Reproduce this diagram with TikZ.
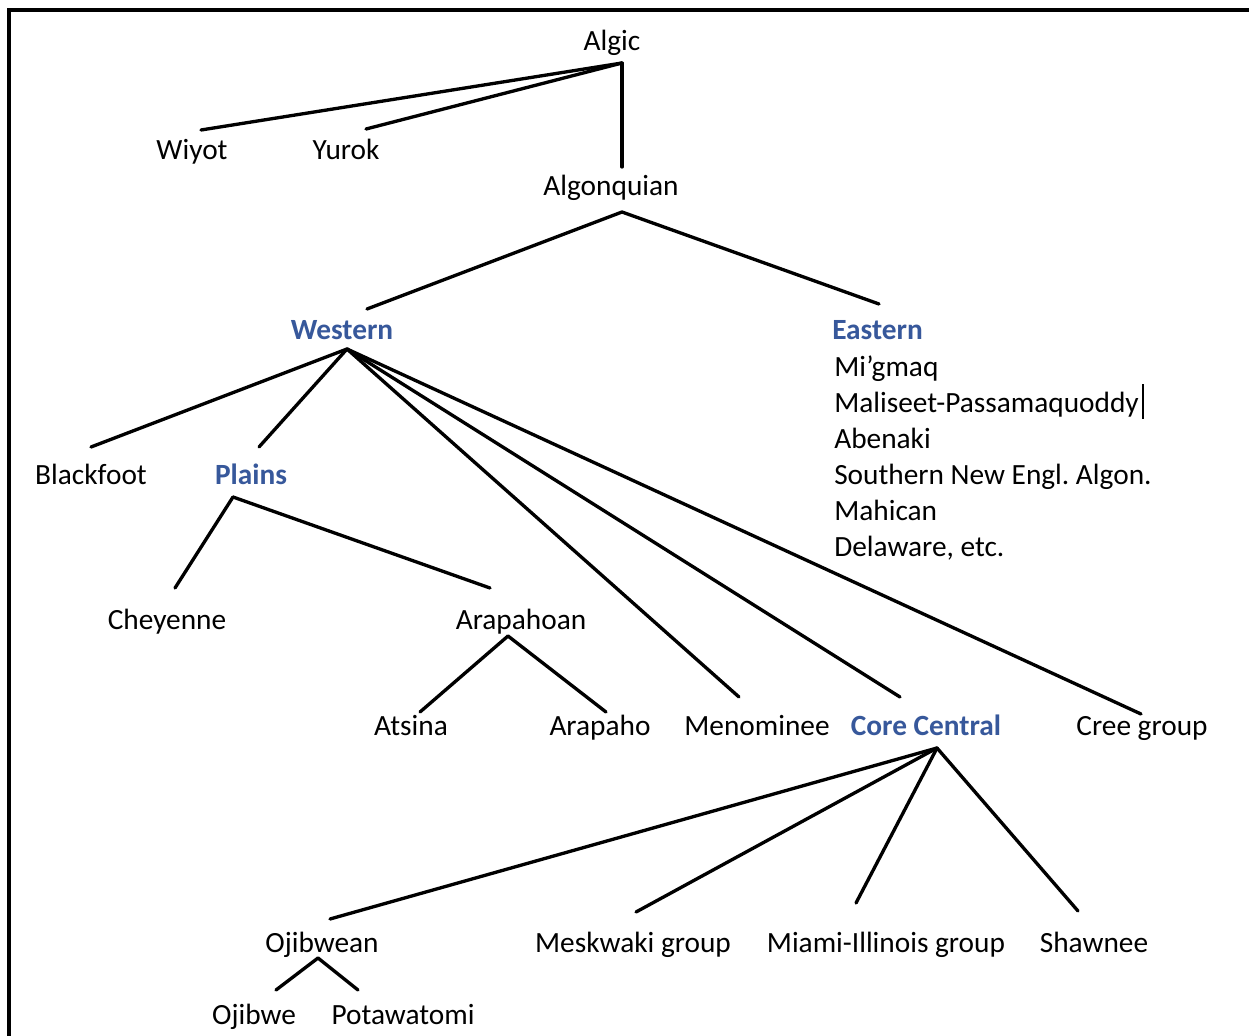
\documentclass[tikz,border=0pt]{standalone}
\usepackage{fontspec}
\setmainfont{Carlito}
\frenchspacing
\definecolor{branchblue}{RGB}{55,88,155}
\tikzset{
  lang/.style={inner sep=0pt, anchor=base, font=\fontsize{22}{26}\selectfont},
  group/.style={lang, font=\fontsize{22}{26}\selectfont\bfseries, text=branchblue},
  listitem/.style={lang, anchor=base west},
  branch/.style={line width=2.5pt, line cap=round},
  frame/.style={line width=2.4pt}
}
\begin{document}
\begin{tikzpicture}[x=0.75pt,y=-0.75pt]
\useasboundingbox (0,0) rectangle (1249,1035);
\fill[white] (0,0) rectangle (1249,1035);
\draw[frame] (9,1040) -- (9,10) -- (1255,10);

% language labels
\node[lang] (algic) at (612,50) {Algic};
\node[lang] (wiyot) at (192,159) {Wiyot};
\node[lang] (yurok) at (346,159) {Yurok};
\node[lang] (algonquian) at (611,195) {Algonquian};
\node[group] (western) at (342,339) {Western};
\node[group, anchor=base west] (eastern) at (832,339) {Eastern};
\node[listitem] (migmaq) at (834,376) {Mi’gmaq};
\node[listitem] (maliseet) at (834,412) {Maliseet-Passamaquoddy};
\node[listitem] (abenaki) at (834,448) {Abenaki};
\node[listitem] (sne) at (834,484) {Southern New Engl.\ Algon.};
\node[listitem] (mahican) at (834,520) {Mahican};
\node[listitem] (delaware) at (834,556) {Delaware, etc.};
\node[lang] (blackfoot) at (91,484) {Blackfoot};
\node[group] (plains) at (251,484) {Plains};
\node[lang] (cheyenne) at (167,629) {Cheyenne};
\node[lang] (arapahoan) at (521,629) {Arapahoan};
\node[lang] (atsina) at (411,735) {Atsina};
\node[lang] (arapaho) at (600,735) {Arapaho};
\node[lang] (menominee) at (757,735) {Menominee};
\node[group] (corecentral) at (926,735) {Core Central};
\node[lang] (cree) at (1142,735) {Cree group};
\node[lang] (ojibwean) at (322,952) {Ojibwean};
\node[lang] (meskwaki) at (633,952) {Meskwaki group};
\node[lang] (miami) at (886,952) {Miami-Illinois group};
\node[lang] (shawnee) at (1094,952) {Shawnee};
\node[lang] (ojibwe) at (254,1024) {Ojibwe};
\node[lang] (potawatomi) at (403,1024) {Potawatomi};

% text cursor after the list entry
\draw[line width=0.8pt] (1143,384) -- (1143,419);

% branch points and branch ends
\coordinate (algic-fork) at (622,63);
\coordinate (wiyot-end) at (201,130);
\coordinate (yurok-end) at (366,129);
\coordinate (algonquian-end) at (622,167);
\coordinate (algonquian-fork) at (622,212);
\coordinate (western-end) at (367,309);
\coordinate (eastern-end) at (879,304);
\coordinate (western-fork) at (347,349);
\coordinate (blackfoot-end) at (91,447);
\coordinate (plains-end) at (259,447);
\coordinate (menominee-end) at (739,697);
\coordinate (corecentral-end) at (900,697);
\coordinate (cree-end) at (1141,714);
\coordinate (plains-fork) at (233,497);
\coordinate (cheyenne-end) at (175,588);
\coordinate (arapahoan-end) at (490,588);
\coordinate (arapahoan-fork) at (508,636);
\coordinate (atsina-end) at (420,712);
\coordinate (arapaho-end) at (606,712);
\coordinate (corecentral-fork) at (937,748);
\coordinate (ojibwean-end) at (330,919);
\coordinate (meskwaki-end) at (636,912);
\coordinate (miami-end) at (856,903);
\coordinate (shawnee-end) at (1078,911);
\coordinate (ojibwean-fork) at (318,958);
\coordinate (ojibwe-end) at (276,990);
\coordinate (potawatomi-end) at (358,990);

% branches
\draw[branch] (algic-fork) -- (wiyot-end);
\draw[branch] (algic-fork) -- (yurok-end);
\draw[branch] (algic-fork) -- (algonquian-end);
\draw[branch] (algonquian-fork) -- (western-end);
\draw[branch] (algonquian-fork) -- (eastern-end);
\draw[branch] (western-fork) -- (blackfoot-end);
\draw[branch] (western-fork) -- (plains-end);
\draw[branch] (western-fork) -- (menominee-end);
\draw[branch] (western-fork) -- (corecentral-end);
\draw[branch] (western-fork) -- (cree-end);
\draw[branch] (plains-fork) -- (cheyenne-end);
\draw[branch] (plains-fork) -- (arapahoan-end);
\draw[branch] (arapahoan-fork) -- (atsina-end);
\draw[branch] (arapahoan-fork) -- (arapaho-end);
\draw[branch] (corecentral-fork) -- (ojibwean-end);
\draw[branch] (corecentral-fork) -- (meskwaki-end);
\draw[branch] (corecentral-fork) -- (miami-end);
\draw[branch] (corecentral-fork) -- (shawnee-end);
\draw[branch] (ojibwean-fork) -- (ojibwe-end);
\draw[branch] (ojibwean-fork) -- (potawatomi-end);
\end{tikzpicture}
\end{document}
